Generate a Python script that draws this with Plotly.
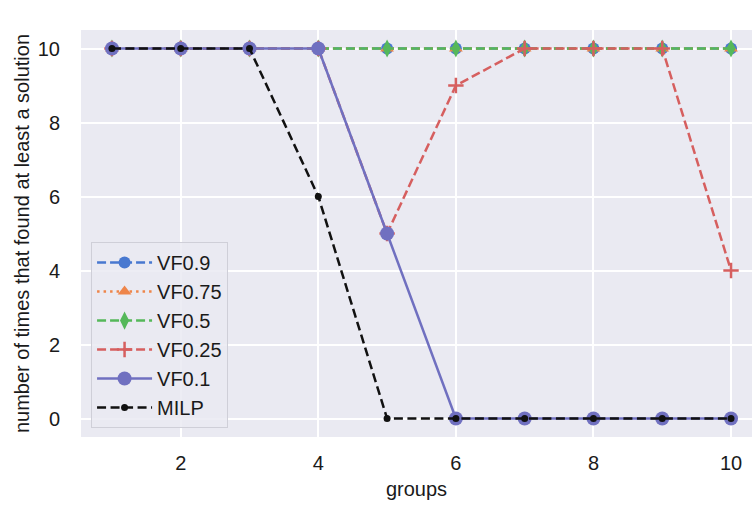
import plotly.graph_objects as go

# Results per group
groups = [1, 2, 3, 4, 5, 6, 7, 8, 9, 10]
vf_09 = [10, 10, 10, 10, 10, 10, 10, 10, 10, 10]
vf_075 = [10, 10, 10, 10, 10, 10, 10, 10, 10, 10]
vf_05 = [10, 10, 10, 10, 10, 10, 10, 10, 10, 10]
vf_025 = [10, 10, 10, 10, 5, 9, 10, 10, 10, 4]
vf_01 = [10, 10, 10, 10, 5, 0, 0, 0, 0, 0]
milp = [10, 10, 10, 6, 0, 0, 0, 0, 0, 0]

x_ticks = [2, 4, 6, 8, 10]
y_ticks = [0, 2, 4, 6, 8, 10]

series = [
    ("VF0.9", vf_09, "#4878d0", "9px,4px", "circle", 12, 2.5),
    ("VF0.75", vf_075, "#ee854a", "2.5px,4px", "triangle-up", 12, 2.5),
    ("VF0.5", vf_05, "#55b85a", "9px,4px", "diamond-tall", 13, 2.5),
    ("VF0.25", vf_025, "#d65f5f", "9px,4px", "cross-thin", 11, 2.5),
    ("VF0.1", vf_01, "#7070c0", "solid", "circle", 14, 2.5),
    ("MILP", milp, "#111111", "9px,4.5px", "circle", 7, 2.5),
]

fig = go.Figure()
for i, (name, ys, color, dash, symbol, size, width) in enumerate(series):
    marker = dict(symbol=symbol, size=size, color=color)
    if symbol == "cross-thin":
        marker["line"] = dict(color=color, width=2.5)
    else:
        marker["line"] = dict(width=0)
    fig.add_trace(go.Scatter(
        x=groups, y=ys, name=name, mode="lines+markers",
        line=dict(color=color, width=width, dash=dash),
        marker=marker,
    ))

font = "Liberation Sans, Arial, sans-serif"
fig.update_layout(
    width=752, height=506,
    margin=dict(l=81, r=0, t=30, b=69),
    paper_bgcolor="white",
    plot_bgcolor="#eaeaf2",
    font=dict(family=font, size=20, color="#1a1a1a"),
    showlegend=True,
    legend=dict(
        x=0.015, y=0.022, xanchor="left", yanchor="bottom",
        bgcolor="rgba(234,234,242,0.85)",
        bordercolor="#cfcfd8", borderwidth=1,
        font=dict(family=font, size=20, color="#1a1a1a"),
        itemwidth=55,
    ),
    xaxis=dict(
        range=[0.55, 10.305], tickvals=x_ticks,
        showgrid=True, gridcolor="white", gridwidth=1.5,
        zeroline=False, showline=False, ticklabelstandoff=12,
        title=dict(text="groups", font=dict(size=20), standoff=8),
    ),
    yaxis=dict(
        range=[-0.5, 10.5], tickvals=y_ticks,
        showgrid=True, gridcolor="white", gridwidth=1.5,
        zeroline=False, showline=False, ticklabelstandoff=20,
        title=dict(text="number of times that found at least a solution",
                   font=dict(size=20), standoff=2),
    ),
)

fig.write_html("out.html")
